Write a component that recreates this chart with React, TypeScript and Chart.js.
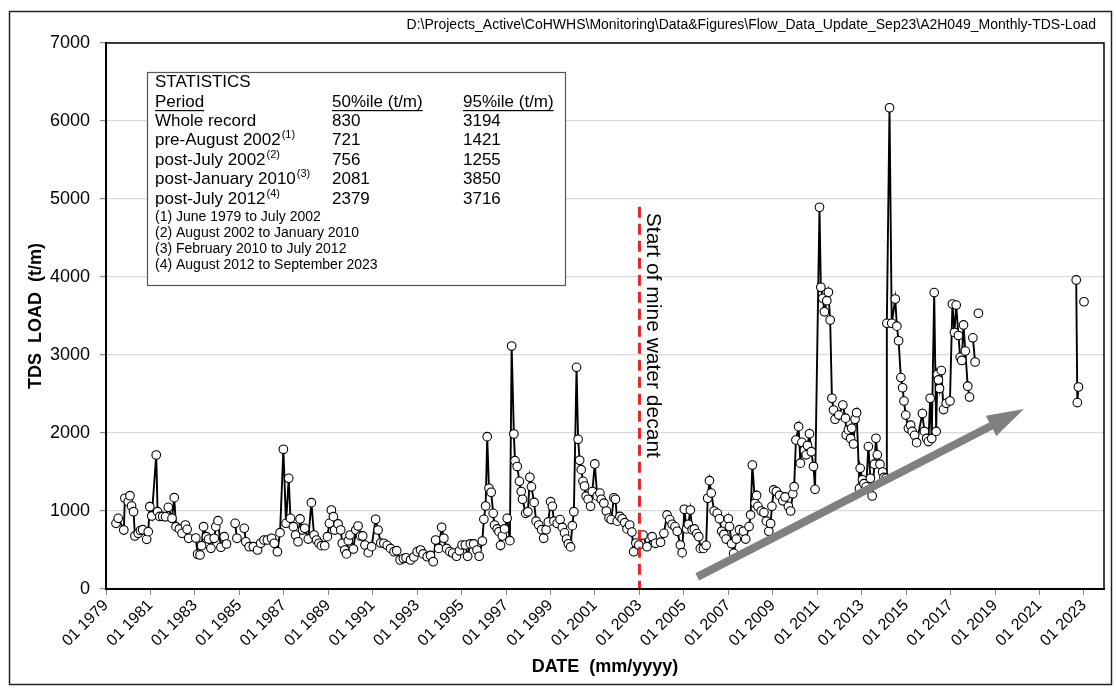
import { useEffect, useRef } from "react";
import { Chart, registerables } from "chart.js";

Chart.register(...registerables);

const FONT = "Arial, 'Liberation Sans', sans-serif";

// decimal year of each monthly sample
const SAMPLE_DATES: number[] = [
  1979.45, 1979.55, 1979.8, 1979.85, 1980.0, 1980.08, 1980.15, 1980.24, 1980.3, 1980.45,
  1980.55, 1980.65, 1980.83, 1980.9, 1980.97, 1981.06, 1981.26, 1981.32, 1981.42, 1981.55,
  1981.68, 1981.8, 1981.97, 1982.07, 1982.15, 1982.3, 1982.42, 1982.57, 1982.65, 1982.72,
  1983.04, 1983.12, 1983.23, 1983.3, 1983.39, 1983.52, 1983.62, 1983.72, 1983.87, 1983.94,
  1984.04, 1984.17, 1984.32, 1984.42, 1984.6, 1984.81, 1984.89, 1985.05, 1985.22, 1985.29,
  1985.44, 1985.63, 1985.82, 1985.96, 1986.11, 1986.26, 1986.45, 1986.57, 1986.71, 1986.83,
  1986.98, 1987.1, 1987.22, 1987.3, 1987.43, 1987.53, 1987.64, 1987.73, 1987.85, 1987.94,
  1988.1, 1988.24, 1988.36, 1988.47, 1988.58, 1988.69, 1988.84, 1988.96, 1989.05, 1989.14,
  1989.23, 1989.29, 1989.44, 1989.56, 1989.63, 1989.74, 1989.82, 1989.9, 1989.98, 1990.13,
  1990.24, 1990.34, 1990.45, 1990.55, 1990.65, 1990.8, 1990.95, 1991.13, 1991.24, 1991.36,
  1991.5, 1991.65, 1991.8, 1991.96, 1992.08, 1992.23, 1992.38, 1992.5, 1992.7, 1992.85,
  1993.0, 1993.15, 1993.27, 1993.45, 1993.6, 1993.72, 1993.83, 1993.97, 1994.1, 1994.2,
  1994.32, 1994.47, 1994.6, 1994.77, 1994.9, 1995.02, 1995.17, 1995.27, 1995.39, 1995.54,
  1995.69, 1995.79, 1995.93, 1996.0, 1996.08, 1996.15, 1996.23, 1996.33, 1996.42, 1996.48,
  1996.6, 1996.68, 1996.75, 1996.83, 1996.93, 1997.05, 1997.17, 1997.25, 1997.35, 1997.4,
  1997.5, 1997.6, 1997.68, 1997.74, 1997.88, 1997.98, 1998.07, 1998.14, 1998.26, 1998.35,
  1998.47, 1998.6, 1998.69, 1998.8, 1998.9, 1999.0, 1999.08, 1999.15, 1999.3, 1999.43,
  1999.53, 1999.63, 1999.72, 1999.8, 1999.9, 1999.98, 2000.05, 2000.17, 2000.24, 2000.31,
  2000.38, 2000.46, 2000.53, 2000.6, 2000.69, 2000.8, 2000.88, 2000.99, 2001.1, 2001.22,
  2001.28, 2001.4, 2001.51, 2001.63, 2001.73, 2001.85, 2001.92, 2002.0, 2002.12, 2002.22,
  2002.34, 2002.44, 2002.56, 2002.66, 2002.74, 2002.84, 2002.97, 2003.16, 2003.34, 2003.57,
  2003.72, 2003.95, 2004.1, 2004.24, 2004.36, 2004.47, 2004.6, 2004.7, 2004.84, 2004.92,
  2005.02, 2005.12, 2005.2, 2005.29, 2005.37, 2005.47, 2005.58, 2005.67, 2005.74, 2005.88,
  2006.0, 2006.07, 2006.15, 2006.23, 2006.36, 2006.5, 2006.6, 2006.7, 2006.8, 2006.9,
  2007.0, 2007.05, 2007.15, 2007.24, 2007.36, 2007.5, 2007.68, 2007.78, 2007.93, 2008.0,
  2008.08, 2008.2, 2008.27, 2008.33, 2008.48, 2008.6, 2008.71, 2008.82, 2008.9, 2008.96,
  2009.04, 2009.16, 2009.3, 2009.45, 2009.55, 2009.7, 2009.8, 2009.9, 2009.96, 2010.04,
  2010.16, 2010.24, 2010.31, 2010.42, 2010.5, 2010.56, 2010.65, 2010.73, 2010.83, 2010.9,
  2011.1, 2011.16, 2011.25, 2011.32, 2011.43, 2011.5, 2011.58, 2011.66, 2011.73, 2011.8,
  2011.97, 2012.15, 2012.27, 2012.3, 2012.4, 2012.5, 2012.55, 2012.63, 2012.7, 2012.77,
  2012.9, 2012.93, 2013.03, 2013.1, 2013.2, 2013.3, 2013.39, 2013.47, 2013.57, 2013.64,
  2013.7, 2013.82, 2013.94, 2014.0, 2014.1, 2014.13, 2014.25, 2014.35, 2014.51, 2014.58,
  2014.66, 2014.76, 2014.84, 2014.9, 2014.98, 2015.1, 2015.2, 2015.27, 2015.38, 2015.47,
  2015.73, 2015.82, 2015.92, 2016.0, 2016.08, 2016.15, 2016.26, 2016.35, 2016.4, 2016.45,
  2016.5, 2016.58, 2016.68, 2016.8, 2016.97, 2017.08, 2017.17, 2017.25, 2017.35, 2017.43,
  2017.5, 2017.58, 2017.66, 2017.77, 2017.85, 2017.92, 2018.0, 2018.1, 2018.17, 2018.25,
  2020.0, 2022.65, 2022.7, 2022.75, 2022.9, 2023.0,
];

// monthly TDS load (t/m); null marks a break in the record
const TDS_LOAD: (number | null)[] = [
  842, 906, 756, 1163, 1120, 1196, 1064, 991, 680, 714,
  750, 760, 637, 735, 1055, 936, 1718, 991, 930, 930,
  925, 1047, 906, 1171, 799, 770, 714, 820, 765, 650,
  654, 445, 436, 555, 799, 671, 640, 521, 650, 799,
  876, 535, 671, 577, null, 842, 650, null, 778, 606,
  542, 542, 500, 586, 628, 628, 650, 586, 478, 722,
  1791, 842, 1419, 906, 799, 692, 606, 898, 756, 778,
  640, 1107, 692, 628, 586, 556, 556, 671, 842, 1013,
  927, 756, 834, 756, 586, 500, 450, 620, 692, 513,
  756, 807, 680, 680, 564, 466, 543, 894, 756, 590,
  586, 560, 520, 478, 491, 372, 390, 400, 372, 410,
  478, 500, 450, 414, 430, 350, 628, 520, 791, 650,
  520, 480, 460, 420, 490, 564, 564, 420, 578, 578,
  500, 420, 615, 893, 1064, 1953, 1291, 1240, 970, 820,
  770, 735, 560, 680, 770, 906, 620, 3115, 1987, 1645,
  1570, 1380, 1250, 1150, 970, 990, 1432, 1310, 1110, 870,
  820, 760, 650, 760, 860, 1120, 1060, 870, 840, 890,
  790, 720, 640, 580, 540, 812, 991, 2842, 1919, 1650,
  1530, 1380, 1320, 1190, 1150, 1060, 1250, 1603, 1190, 1230,
  1150, 1100, 1000, 910, 890, 1170, 1150, 870, 930, 900,
  850, 770, 820, 730, 478, 590, 564, 692, 542, 671,
  586, 600, 714, 950, 890, 830, 800, 740, 564, 466,
  1022, 770, 830, 1013, 760, 770, 710, 670, 520, 520,
  560, 1163, 1389, 1230, 1000, 970, 900, 740, 700, 640,
  900, 800, 580, 457, 640, 760, 740, 640, 800, 950,
  1590, 1100, 1200, 1060, 1000, 980, 870, 740, 840, 1060,
  1270, 1250, 1200, 1130, 1180, 1060, 1000, 1220, 1312, 1910,
  2081, 1613, 1880, 1780, 1720, 1840, 1990, 1760, 1570, 1278,
  4894, 3868, 3727, 3555, 3697, 3804, 3449, 2445, 2295, 2176,
  2230, 2359, 2190, 1974, 2040, 1930, 2060, 1859, 2176, 2260,
  1290, 1547, 1400, 1350, 1310, 1826, 1420, 1192, 1600, 1932,
  1720, 1600, 1500, 1430, 1420, 3406, 6170, 3406, 3718, 3370,
  3183, 2710, 2580, 2410, 2230, 2060, 2100, 2020, 1970, 1876,
  2250, 2020, 1930, 1890, 2445, 1930, 3800, 2020, 2750, 2680,
  2570, 2800, 2300, 2380, 2410, 3654, 3290, 3640, 3250, 2970,
  2930, 3385, 3050, 2600, 2460, null, 3220, 2910, null, 3535,
  null, 3962, 2390, 2590, null, 3683,
];

const TICK_YEARS: number[] = [
  1979, 1981, 1983, 1985, 1987, 1989, 1991, 1993, 1995, 1997, 1999, 2001,
  2003, 2005, 2007, 2009, 2011, 2013, 2015, 2017, 2019, 2021, 2023,
];

const DECANT_DATE = 2003.0;
const DECANT_LINE_Y: number[] = [4900, 0];
const TREND_ARROW_X: number[] = [2005.6, 2020.3];
const TREND_ARROW_Y: number[] = [155, 2308];

const FILE_PATH =
  "D:\\Projects_Active\\CoHWHS\\Monitoring\\Data&Figures\\Flow_Data_Update_Sep23\\A2H049_Monthly-TDS-Load";

const STATS_HEADER = ["Period", "50%ile (t/m)", "95%ile (t/m)"];
const STATS_PERIODS = ["Whole record", "pre-August 2002", "post-July 2002", "post-January 2010", "post-July 2012"];
const STATS_SUPS = ["", "(1)", "(2)", "(3)", "(4)"];
const STATS_P50 = ["830", "721", "756", "2081", "2379"];
const STATS_P95 = ["3194", "1421", "1255", "3850", "3716"];
const STATS_NOTES = [
  "June 1979 to July 2002",
  "August 2002 to January 2010",
  "February 2010 to July 2012",
  "August 2012 to September 2023",
];

const overlayPlugin = {
  id: "overlay",
  beforeDraw(chart: any) {
    const ctx = chart.ctx;
    ctx.save();
    ctx.fillStyle = "#fff";
    ctx.fillRect(0, 0, chart.width, chart.height);
    ctx.restore();
  },
  afterDatasetsDraw(chart: any) {
    const ctx = chart.ctx;
    const xs = chart.scales.x;
    const ys = chart.scales.y;
    // trend arrow
    const x0 = xs.getPixelForValue(TREND_ARROW_X[0]);
    const y0 = ys.getPixelForValue(TREND_ARROW_Y[0]);
    const x1 = xs.getPixelForValue(TREND_ARROW_X[1]);
    const y1 = ys.getPixelForValue(TREND_ARROW_Y[1]);
    const ang = Math.atan2(y1 - y0, x1 - x0);
    const headLen = 37;
    const headHalf = 11.5;
    const bx = x1 - Math.cos(ang) * headLen;
    const by = y1 - Math.sin(ang) * headLen;
    ctx.save();
    ctx.strokeStyle = "#808080";
    ctx.fillStyle = "#808080";
    ctx.lineWidth = 8;
    ctx.lineCap = "butt";
    ctx.beginPath();
    ctx.moveTo(x0, y0);
    ctx.lineTo(bx + Math.cos(ang) * 2, by + Math.sin(ang) * 2);
    ctx.stroke();
    ctx.beginPath();
    ctx.moveTo(x1, y1);
    ctx.lineTo(bx - Math.sin(ang) * headHalf, by + Math.cos(ang) * headHalf);
    ctx.lineTo(bx + Math.sin(ang) * headHalf, by - Math.cos(ang) * headHalf);
    ctx.closePath();
    ctx.fill();
    ctx.restore();

    // decant label
    const dx = xs.getPixelForValue(DECANT_DATE);
    const dy = ys.getPixelForValue(DECANT_LINE_Y[0]);
    ctx.save();
    ctx.translate(dx + 13, dy + 6);
    ctx.rotate(Math.PI / 2);
    ctx.font = `21px ${FONT}`;
    ctx.fillStyle = "#000";
    ctx.textAlign = "left";
    ctx.textBaseline = "middle";
    ctx.fillText("Start of mine water decant", 0, 0);
    ctx.restore();
  },
  afterDraw(chart: any) {
    const ctx = chart.ctx;
    const a = chart.chartArea;
    ctx.save();
    // plot frame
    ctx.strokeStyle = "#000";
    ctx.lineWidth = 1.5;
    ctx.strokeRect(a.left, a.top, a.right - a.left, a.bottom - a.top);
    // outer frame
    ctx.lineWidth = 1.5;
    ctx.strokeStyle = "#222";
    ctx.strokeRect(9.5, 11.5, 1102, 673);

    // file path
    ctx.fillStyle = "#000";
    ctx.font = `14px ${FONT}`;
    ctx.textAlign = "right";
    ctx.textBaseline = "middle";
    ctx.fillText(FILE_PATH, 1096, 25);

    // statistics box
    const bxL = 147, bxT = 72, bxW = 418, bxH = 213;
    ctx.fillStyle = "#fff";
    ctx.fillRect(bxL, bxT, bxW, bxH);
    ctx.strokeStyle = "#555";
    ctx.lineWidth = 1.2;
    ctx.strokeRect(bxL + 0.5, bxT + 0.5, bxW, bxH);

    const c0 = 155, c1 = 332, c2 = 463;
    ctx.fillStyle = "#000";
    ctx.textAlign = "left";
    ctx.textBaseline = "middle";
    ctx.font = `17px ${FONT}`;
    ctx.fillText("STATISTICS", c0, 82);
    const cols = [c0, c1, c2];
    STATS_HEADER.forEach((t, i) => {
      ctx.fillText(t, cols[i], 102);
      const w = ctx.measureText(t).width;
      ctx.fillRect(cols[i], 110, w, 1.2);
    });
    const rowY = [121, 140, 160, 179, 199];
    STATS_PERIODS.forEach((p, i) => {
      ctx.font = `17px ${FONT}`;
      ctx.fillText(p, c0, rowY[i]);
      const w = ctx.measureText(p).width;
      ctx.fillText(STATS_P50[i], c1, rowY[i]);
      ctx.fillText(STATS_P95[i], c2, rowY[i]);
      if (STATS_SUPS[i]) {
        ctx.font = `11px ${FONT}`;
        ctx.fillText(STATS_SUPS[i], c0 + w + 1, rowY[i] - 5);
      }
    });
    ctx.font = `14px ${FONT}`;
    const noteY = [217, 233, 249, 265];
    STATS_NOTES.forEach((n, i) => {
      ctx.fillText(`(${i + 1})`, c0, noteY[i]);
      ctx.fillText(n, c0 + 21, noteY[i]);
    });
    ctx.restore();
  },
};

export default function App() {
  const ref = useRef<HTMLCanvasElement | null>(null);

  useEffect(() => {
    const canvas = ref.current;
    if (!canvas) return;
    const points = SAMPLE_DATES.map((x, i) => ({ x, y: TDS_LOAD[i] }));
    const decant = DECANT_LINE_Y.map((y) => ({ x: DECANT_DATE, y }));

    const chart = new Chart(canvas, {
      type: "line",
      data: {
        datasets: [
          {
            data: decant as any,
            borderColor: "#e8242b",
            borderWidth: 3,
            borderDash: [11, 6],
            pointRadius: 0,
            order: 0,
          },
          {
            data: points as any,
            borderColor: "#000",
            borderWidth: 1.9,
            pointRadius: 4.3,
            pointBackgroundColor: "#fff",
            pointBorderColor: "#000",
            pointBorderWidth: 1.1,
            spanGaps: false,
            tension: 0,
            order: 1,
          },
        ],
      },
      options: {
        responsive: false,
        animation: false,
        devicePixelRatio: 1,
        layout: { padding: { top: 43, right: 12, left: 0, bottom: 0 } },
        plugins: { legend: { display: false }, tooltip: { enabled: false } },
        scales: {
          x: {
            type: "linear",
            min: 1979,
            max: 2023.9,
            afterBuildTicks: (s: any) => {
              s.ticks = TICK_YEARS.map((v) => ({ value: v }));
            },
            afterFit: (s: any) => {
              s.height = 99;
            },
            grid: { drawOnChartArea: false, tickLength: 6, color: "#888", tickColor: "#888" },
            border: { color: "#000", width: 2 },
            ticks: {
              minRotation: 45,
              maxRotation: 45,
              autoSkip: false,
              color: "#000",
              padding: 1,
              font: { family: FONT, size: 16 },
              callback: (v: any) => `01 ${v}`,
            },
            title: {
              display: true,
              text: "DATE  (mm/yyyy)",
              color: "#000",
              font: { family: FONT, size: 18, weight: "bold" },
              padding: { top: 0, bottom: 10 },
            },
          },
          y: {
            min: 0,
            max: 7000,
            afterFit: (s: any) => {
              s.width = 106;
            },
            grid: { color: "#d9d9d9", tickColor: "#888", tickLength: 6, lineWidth: 1.2 },
            border: { color: "#000", width: 2 },
            ticks: {
              stepSize: 1000,
              color: "#000",
              padding: 10,
              font: { family: FONT, size: 18 },
              callback: (v: any) => String(v),
            },
            title: {
              display: true,
              text: "TDS  LOAD  (t/m)",
              color: "#000",
              font: { family: FONT, size: 18, weight: "bold" },
              padding: { top: 25, bottom: 0 },
            },
          },
        },
      },
      plugins: [overlayPlugin],
    });
    return () => chart.destroy();
  }, []);

  return (
    <canvas
      ref={ref}
      width={1116}
      height={688}
      style={{ position: "fixed", left: 0, top: 0, width: 1116, height: 688, display: "block" }}
    />
  );
}
